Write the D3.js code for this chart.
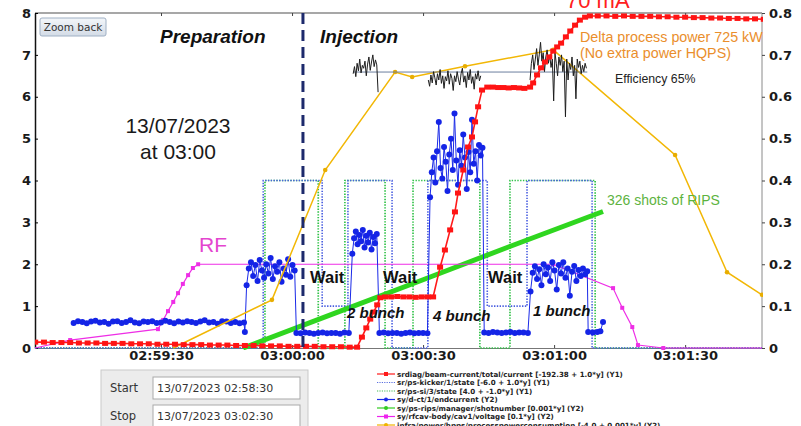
<!DOCTYPE html>
<html>
<head>
<meta charset="utf-8">
<script src="https://cdn.jsdelivr.net/npm/d3@7"></script>
<style>
  body { margin: 0; background: #fff; }
  svg { display: block; font-family: "DejaVu Sans", sans-serif; }
</style>
</head>
<body>
<svg id="chart" width="801" height="426"></svg>
<script>
// ---- time base: seconds relative to 13/07/2023 03:00:00 ----
const T0 = new Date(2023, 6, 13, 3, 0, 0);
const timeDomain = [-58.85, 107.6];
const injectionStart = 2.5;

const yLeftTicks = [0, 1, 2, 3, 4, 5, 6, 7, 8];
const yRightTicks = [0, 0.1, 0.2, 0.3, 0.4, 0.5, 0.6, 0.7, 0.8];

// ---- beam current (Y1, mA) ----
const beamLow = { start: -58.8, step: 2, values: [
  0.14,0.14,0.13,0.13,0.13,0.12,0.12,0.12,0.11,0.11,0.11,0.10,0.10,0.10,0.09,0.09,0.09,
  0.08,0.08,0.08,0.07,0.07,0.07,0.06,0.06,0.06,0.05,0.05,0.05,0.04,0.04,0.04,0.04,0.03,
  0.03,0.03,0.02] };
const beamRamp1 = [[14.9,0.02],[16.0,0.26],[17.0,0.48],[17.9,0.69],[18.7,0.86],[19.5,1.03],[20.2,1.20],[21.3,1.22]];
const beamHold1 = { start: 22.7, step: 1.4, values: [1.22,1.23,1.22,1.22,1.21,1.22,1.22] };
const beamRamp2 = [[32.3,1.22],[33.9,1.93],[35.0,2.34],[36.2,2.82],[37.3,3.25],[38.0,3.70],[39.2,4.25],
  [40.3,4.80],[41.2,5.04],[41.9,5.40],[42.6,5.76],[43.5,6.16],[44.7,6.23]];
const beamHold2 = { start: 46.0, step: 1.2, values: [6.23,6.22,6.22,6.21,6.22,6.21,6.20] };
const beamRamp3 = [[54.5,6.23],[55.2,6.33],[56.1,6.52],[57.0,6.69],[57.9,6.83],[58.9,6.95],[59.8,7.09],
  [60.7,7.19],[61.6,7.28],[62.7,7.43],[63.7,7.57],[64.8,7.71],[65.9,7.83],[67.1,7.90],[68.2,7.93]];
const beamTop = { start: 70.0, step: 2, values: [
  7.93,7.93,7.92,7.93,7.92,7.92,7.92,7.91,7.91,7.90,7.90,7.89,7.89,7.88,7.88,7.87,7.87,7.86,7.86,7.85] };

// ---- kicker and septum states (Y1, offset applied) ----
const kickerState = [[-58.85,0],[-6.6,4],[6.9,1],[12.8,4],[22.9,0],[31.1,4],[44.7,1],[53.8,4],[68.7,0],[107.6,0]];
const septumState = [[-58.85,0],[-6.2,4],[6.0,0],[12.1,4],[21.3,0],[27.7,4],[43.0,0],[49.9,4],[69.4,0],[107.6,0]];

// ---- booster end current (Y2) ----
const endCurrentRuns = [
  { start: -50, step: 1, values: [0.060,0.064,0.062,0.059,0.063,0.065,0.061,0.062,0.058,0.063,0.064,0.060,
    0.062,0.066,0.061,0.059,0.063,0.062,0.064,0.060,0.061,0.065,0.062,0.059,0.063,0.061,0.064,0.062,0.060,
    0.063,0.066,0.061,0.062,0.058,0.064,0.063,0.060,0.062,0.059,0.061] },
  { start: -10.8, step: 1, values: [0.038] },
  { start: -10.4, step: 0.5, values: [0.150,0.190,0.205,0.172,0.198,0.160,0.210,0.185,0.168,0.200,0.178,
    0.215,0.165,0.195,0.182,0.205,0.158,0.190,0.175,0.212,0.170,0.198,0.185] },
  { start: 1.0, step: 1, values: [0.036,0.035,0.037,0.036,0.034,0.036,0.037,0.035,0.036,0.036,0.034,0.037,0.036] },
  { start: 13.8, step: 0.4, values: [0.225,0.262,0.278,0.248,0.270,0.255,0.282,0.240,0.268,0.252,0.275,
    0.235,0.265,0.250,0.272] },
  { start: 20.0, step: 1, values: [0.036,0.037,0.035,0.036,0.036,0.034,0.036,0.037,0.035,0.036,0.036,0.035] },
  { start: 31.6, step: 0.4, values: [0.360,0.420,0.455,0.395,0.470,0.540,0.430,0.405,0.480,0.445,0.375,
    0.462,0.500,0.425,0.560,0.448,0.390,0.472,0.435,0.510,0.455,0.380,0.468,0.420,0.545,0.440,0.470,
    0.400,0.485,0.460,0.478] },
  { start: 44.0, step: 1, values: [0.037,0.036,0.038,0.037,0.036,0.037,0.038,0.036,0.037,0.037,0.036] },
  { start: 54.6, step: 0.5, values: [0.135,0.180,0.195,0.165,0.188,0.150,0.200,0.176,0.192,0.160,0.205,
    0.185,0.140,0.198,0.178,0.205,0.168,0.190,0.125,0.182,0.196,0.160,0.186,0.172,0.190,0.176,0.183] }
];
const endCurrentTail = [[67.8,0.038],[68.9,0.037],[69.9,0.038],[70.6,0.040],[71.2,0.062]];

// ---- RIPS shot counter (raw shots, shown as 0.001*y on Y2) ----
const ripsShots = [[-11.2,0],[10,84],[30,163],[50,243],[71.2,326]];

// ---- RF cavity voltage (0.1*y on Y2) ----
const rfVoltage = [[-58.85,0],[-50.8,0.019],[-30.7,0.045],[-29.5,0.067],[-28.4,0.088],[-27.2,0.110],
  [-26.1,0.131],[-25.0,0.153],[-23.8,0.174],[-22.7,0.191],[-21.5,0.200],[59.8,0.200],[73.5,0.143],
  [75.6,0.096],[77.9,0.050],[79.2,0.007],[85.0,0],[107.6,0]];

// ---- process power consumption (Y2) ----
const processPower = [[-27.2,0.0],[-4.6,0.115],[7.6,0.425],[23.6,0.659],[27.5,0.647],[39.6,0.673],
  [59.8,0.712],[87.7,0.461],[99.6,0.181],[107.6,0.127]];

// ---- efficiency trace during injection (Y2) ----
const effRuns = [
  { start: 14.0, step: 0.3, values: [0.655,0.672,0.648,0.680,0.662,0.690,0.657,0.675,0.668,0.685,0.650,
    0.678,0.695,0.663,0.683,0.700,0.672,0.688,0.676,0.611] },
  { start: 31.2, step: 0.3, values: [0.640,0.625,0.652,0.633,0.660,0.645,0.628,0.655,0.640,0.665,0.632,
    0.650,0.620,0.648,0.638,0.662,0.630,0.655,0.644,0.615,0.650,0.636,0.660,0.642,0.628,0.655,0.668,
    0.635,0.650,0.622,0.658,0.640,0.665,0.632,0.648,0.618,0.655,0.642,0.662,0.638,0.650] },
  { start: 54.5, step: 0.3, values: [0.640,0.680,0.700,0.665,0.690,0.715,0.675,0.700,0.730,0.685,0.705,
    0.660,0.695,0.712,0.680,0.700,0.670,0.690,0.590,0.705,0.680,0.650,0.695,0.675,0.700,0.660,0.685,
    0.552,0.690,0.640,0.680,0.665,0.695,0.650,0.675,0.595,0.690,0.670,0.685,0.655,0.675,0.660,0.680,0.668] }
];
const effLevel = [[14.0,0.659],[67.6,0.659]];

const legendItems = [
  { label: "srdiag/beam-current/total/current [-192.38 + 1.0*y] (Y1)", color: "#ff1a1a", marker: "square" },
  { label: "sr/ps-kicker/1/state [-6.0 + 1.0*y] (Y1)", color: "#5b6fe0", dash: "1.2,1.2" },
  { label: "sr/ps-si/3/state [4.0 + -1.0*y] (Y1)", color: "#44bb55", dash: "1.2,1.2" },
  { label: "sy/d-ct/1/endcurrent (Y2)", color: "#1a2ae8", marker: "circle" },
  { label: "sy/ps-rips/manager/shotnumber [0.001*y] (Y2)", color: "#33cc22", marker: "circle" },
  { label: "sy/rfcav-body/cav1/voltage [0.1*y] (Y2)", color: "#ee22ee", marker: "square" },
  { label: "infra/power/hpps/processpowerconsumption [-4.0 + 0.001*y] (Y2)", color: "#f0b400", marker: "circle" }
];

// ---- helpers ----
const at = s => new Date(T0.getTime() + s * 1000);
const expand = run => run.values.map((v, i) => [run.start + i * run.step, v]);

const beamCurrent = [].concat(expand(beamLow), beamRamp1, expand(beamHold1), beamRamp2,
  expand(beamHold2), beamRamp3, expand(beamTop));
const endCurrent = [].concat(...endCurrentRuns.map(expand), endCurrentTail);
const ripsScaled = ripsShots.map(([t, n]) => [t, 0.001 * n]);

// ---- scales ----
const L = 35, R = 762, TOP = 13, BOT = 348;
const x = d3.scaleTime().domain(timeDomain.map(at)).range([L, R]);
const yL = d3.scaleLinear().domain([0, 8]).range([BOT, TOP]);
const yR = d3.scaleLinear().domain([0, 0.8]).range([BOT, TOP]);

const svg = d3.select("#chart");
svg.append("rect").attr("width", 801).attr("height", 426).attr("fill", "#fff");

const defs = svg.append("defs");
defs.append("clipPath").attr("id", "plotClip").append("rect")
  .attr("x", L).attr("y", TOP - 4).attr("width", R - L + 1).attr("height", BOT - TOP + 6);
const grad = defs.append("linearGradient").attr("id", "btnGrad").attr("x1", 0).attr("y1", 0).attr("x2", 0).attr("y2", 1);
grad.append("stop").attr("offset", 0).attr("stop-color", "#f3f6fa");
grad.append("stop").attr("offset", 1).attr("stop-color", "#d3dbe6");

// ---- frame and axes ----
svg.append("line").attr("x1", L).attr("x2", R).attr("y1", TOP).attr("y2", TOP)
  .attr("stroke", "#8a8a8a").attr("stroke-width", 1.5);
svg.append("line").attr("x1", R).attr("x2", R).attr("y1", TOP).attr("y2", BOT)
  .attr("stroke", "#8a8a8a").attr("stroke-width", 1);

const timeTicks = d3.timeSecond.every(30);
svg.append("g").attr("transform", `translate(0,${TOP})`)
  .call(d3.axisTop(x).ticks(timeTicks).tickSizeInner(-3).tickSizeOuter(0).tickFormat(""))
  .call(g => g.select(".domain").remove())
  .call(g => g.selectAll("line").attr("stroke", "#444"));

const axFont = g => g.selectAll("text").attr("font-family", "DejaVu Sans").attr("font-weight", "bold")
  .attr("font-size", 13).attr("fill", "#1a1a1a");

svg.append("g").attr("transform", `translate(0,${BOT})`)
  .call(d3.axisBottom(x).ticks(timeTicks).tickSizeInner(-3).tickSizeOuter(0).tickPadding(3)
    .tickFormat(d3.timeFormat("%H:%M:%S")))
  .call(g => g.select(".domain").attr("stroke", "#777"))
  .call(g => g.selectAll("line").attr("stroke", "#444"))
  .call(axFont);

svg.append("g").attr("transform", `translate(${L},0)`)
  .call(d3.axisLeft(yL).tickValues(yLeftTicks).tickSizeInner(-3).tickSizeOuter(0).tickPadding(4)
    .tickFormat(d3.format("d")))
  .call(g => g.select(".domain").attr("stroke", "#111").attr("stroke-width", 1.5))
  .call(axFont);

svg.append("g").attr("transform", `translate(${R},0)`)
  .call(d3.axisRight(yR).tickValues(yRightTicks).tickSize(3).tickSizeOuter(0).tickPadding(4)
    .tickFormat(d => d === 0 ? "0" : d3.format(".1f")(d)))
  .call(g => g.select(".domain").remove())
  .call(g => g.selectAll("line").attr("stroke", "#444"))
  .call(axFont);

// ---- series ----
const plot = svg.append("g").attr("clip-path", "url(#plotClip)");
const lineL = d3.line().x(d => x(at(d[0]))).y(d => yL(d[1]));
const lineR = d3.line().x(d => x(at(d[0]))).y(d => yR(d[1]));
const stepL = d3.line().x(d => x(at(d[0]))).y(d => yL(d[1])).curve(d3.curveStepAfter);

// machine states (step traces)
plot.append("path").datum(septumState).attr("d", stepL).attr("fill", "none")
  .attr("stroke", "#33c24a").attr("stroke-width", 1.7).attr("stroke-dasharray", "1.4,1.4");
plot.append("path").datum(kickerState).attr("d", stepL).attr("fill", "none")
  .attr("stroke", "#4a5fe0").attr("stroke-width", 1.6).attr("stroke-dasharray", "1.4,1.4");

// RIPS shot counter
plot.append("path").datum(ripsScaled).attr("d", lineR).attr("fill", "none")
  .attr("stroke", "#2fd61f").attr("stroke-width", 5);

// RF voltage
plot.append("path").datum(rfVoltage).attr("d", lineR).attr("fill", "none")
  .attr("stroke", "#ee2ee6").attr("stroke-width", 1.2);
plot.append("g").selectAll("rect").data(rfVoltage.slice(1, -1)).join("rect")
  .attr("x", d => x(at(d[0])) - 2).attr("y", d => yR(d[1]) - 2).attr("width", 4).attr("height", 4)
  .attr("fill", "#ee2ee6");

// booster end current
plot.append("path").datum(endCurrent).attr("d", lineR).attr("fill", "none")
  .attr("stroke", "#1a2ae8").attr("stroke-width", 1);
plot.append("g").selectAll("circle").data(endCurrent).join("circle")
  .attr("cx", d => x(at(d[0]))).attr("cy", d => yR(d[1])).attr("r", 3)
  .attr("fill", "#1424e6");

// process power
plot.append("path").datum(processPower).attr("d", lineR).attr("fill", "none")
  .attr("stroke", "#f2b705").attr("stroke-width", 1.5);
plot.append("g").selectAll("circle").data(processPower.slice(1)).join("circle")
  .attr("cx", d => x(at(d[0]))).attr("cy", d => yR(d[1])).attr("r", 2.3)
  .attr("fill", "#e8ad00");

// efficiency trace and its mean level
plot.append("path").datum(effLevel).attr("d", lineR).attr("fill", "none")
  .attr("stroke", "#6b7f9e").attr("stroke-width", 1);
effRuns.forEach(run => {
  plot.append("path").datum(expand(run)).attr("d", lineR).attr("fill", "none")
    .attr("stroke", "#1e1e1e").attr("stroke-width", 1);
});

// beam current
plot.append("path").datum(beamCurrent).attr("d", lineL).attr("fill", "none")
  .attr("stroke", "#ff1a1a").attr("stroke-width", 1.6);
plot.append("g").selectAll("rect").data(beamCurrent).join("rect")
  .attr("x", d => x(at(d[0])) - 3).attr("y", d => yL(d[1]) - 2.5).attr("width", 6).attr("height", 5)
  .attr("fill", "#ff1414");

// injection start marker
svg.append("line")
  .attr("x1", x(at(injectionStart))).attr("x2", x(at(injectionStart)))
  .attr("y1", TOP).attr("y2", BOT)
  .attr("stroke", "#1d2a6c").attr("stroke-width", 3).attr("stroke-dasharray", "11,6");

// ---- annotations ----
const txt = (s, px, py, o = {}) => svg.append("text").attr("x", px).attr("y", py).text(s)
  .attr("font-family", o.family || "Liberation Sans").attr("font-size", o.size || 14)
  .attr("font-weight", o.weight || "normal").attr("font-style", o.style || "normal")
  .attr("fill", o.fill || "#111").attr("text-anchor", o.anchor || "start");

txt("70 mA", 566, 8, { size: 22, fill: "#ff2020" });
txt("Preparation", 160, 43, { size: 19, weight: "bold", style: "italic" });
txt("Injection", 320, 43, { size: 19, weight: "bold", style: "italic" });
txt("13/07/2023", 178, 133, { size: 21, anchor: "middle", fill: "#1a1a1a" });
txt("at 03:00", 178, 159, { size: 21, anchor: "middle", fill: "#1a1a1a" });
txt("RF", 199, 252, { size: 21, fill: "#e445cf" });
txt("Wait", 310, 283, { size: 16.5, weight: "bold" });
txt("Wait", 383, 283, { size: 16.5, weight: "bold" });
txt("Wait", 488, 283, { size: 16.5, weight: "bold" });
txt("2 bunch", 347, 318, { size: 15, weight: "bold", style: "italic" });
txt("4 bunch", 433, 321, { size: 15, weight: "bold", style: "italic" });
txt("1 bunch", 533, 316, { size: 15, weight: "bold", style: "italic" });
txt("326 shots of RIPS", 607, 205, { size: 14, fill: "#5db33f" });
txt("Delta process power 725 kW", 580, 42, { size: 14.3, fill: "#ea8e2c" });
txt("(No extra power HQPS)", 580, 58, { size: 14.3, fill: "#ea8e2c" });
txt("Efficiency 65%", 615, 83, { size: 12.3, fill: "#222" });

// zoom button
svg.append("rect").attr("x", 40).attr("y", 18).attr("width", 66).attr("height", 18).attr("rx", 2)
  .attr("fill", "url(#btnGrad)").attr("stroke", "#9fb0c4");
txt("Zoom back", 73, 31, { family: "DejaVu Sans", size: 10.5, anchor: "middle", fill: "#333" });

// ---- legend ----
const lg = svg.append("g");
legendItems.forEach((it, i) => {
  const ly = 374 + i * 8.5;
  lg.append("line").attr("x1", 377).attr("x2", 395).attr("y1", ly).attr("y2", ly)
    .attr("stroke", it.color).attr("stroke-width", 1.2).attr("stroke-dasharray", it.dash || null);
  if (it.marker === "square") {
    lg.append("rect").attr("x", 384).attr("y", ly - 2).attr("width", 4).attr("height", 4).attr("fill", it.color);
  } else if (it.marker === "circle") {
    lg.append("circle").attr("cx", 386).attr("cy", ly).attr("r", 2).attr("fill", it.color);
  }
  lg.append("text").attr("x", 397).attr("y", ly + 2.8).text(it.label)
    .attr("font-family", "DejaVu Sans").attr("font-weight", "bold").attr("font-size", 7.1).attr("fill", "#222");
});

// ---- time range panel ----
const panel = svg.append("g");
panel.append("rect").attr("x", 101).attr("y", 370).attr("width", 207).attr("height", 60)
  .attr("fill", "#ececec").attr("stroke", "#c9c9c9");
[["Start", "13/07/2023 02:58:30", 377], ["Stop", "13/07/2023 03:02:30", 405]].forEach(([lab, val, by]) => {
  panel.append("text").attr("x", 110).attr("y", by + 15).text(lab)
    .attr("font-family", "DejaVu Sans").attr("font-size", 11.5).attr("fill", "#333");
  panel.append("rect").attr("x", 153).attr("y", by).attr("width", 147).attr("height", 22)
    .attr("fill", "#fff").attr("stroke", "#a9a9a9");
  panel.append("text").attr("x", 157).attr("y", by + 15).text(val)
    .attr("font-family", "DejaVu Sans").attr("font-size", 11).attr("fill", "#333");
});
</script>
</body>
</html>
